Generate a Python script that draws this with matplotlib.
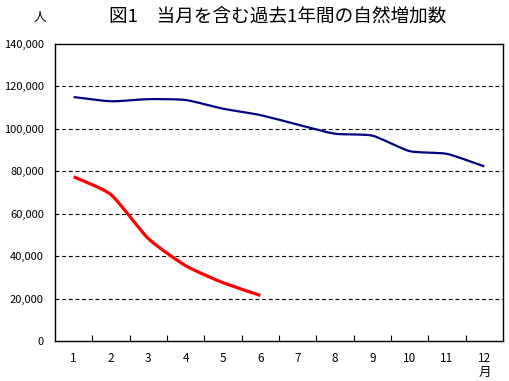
import numpy as np
from matplotlib import pyplot as plt
from matplotlib.path import Path
from matplotlib.patches import PathPatch
from matplotlib.ticker import FuncFormatter, FixedLocator

plt.rcParams['font.family'] = ['Noto Sans CJK JP', 'DejaVu Sans']

months = list(range(1, 13))
month_labels = [str(m) for m in months]
blue_vals = [115000, 113000, 114000, 113600, 109500, 106500, 102000, 97700, 96800, 89500, 88200, 82300]
red_vals = [77400, 69000, 48300, 35500, 27500, 21500]
title = '図1　当月を含む過去1年間の自然増加数'


def smooth_path(xs, ys, k=10):
    # lightly smoothed line (bezier through the points)
    pts = np.column_stack([xs, ys]).astype(float)
    verts = [pts[0]]
    codes = [Path.MOVETO]
    n = len(pts)
    for i in range(n - 1):
        p0 = pts[i - 1] if i > 0 else pts[i]
        p1 = pts[i]
        p2 = pts[i + 1]
        p3 = pts[i + 2] if i + 2 < n else pts[i + 1]
        c1 = p1 + (p2 - p0) / k
        c2 = p2 - (p3 - p1) / k
        verts += [c1, c2, p2]
        codes += [Path.CURVE4] * 3
    return Path(verts, codes)


fig = plt.figure(figsize=(5.09, 3.81), dpi=100)
ax = fig.add_axes([55 / 509, 40 / 381, 448 / 509, 297 / 381])

ax.set_xlim(0.5, 12.5)
ax.set_ylim(0, 140000)

for vals, col, lw in [(blue_vals, '#000080', 1.6), (red_vals, '#ff0000', 2.3)]:
    p = smooth_path(months[:len(vals)], vals)
    ax.add_patch(PathPatch(p, facecolor='none', edgecolor=col, lw=lw, capstyle='butt', zorder=3))

for g in range(20000, 140000, 20000):
    ax.axhline(g, color='black', lw=0.8, linestyle=(0, (3.5, 2.5)), zorder=1)

ax.set_yticks(np.arange(0, 140001, 20000))
ax.yaxis.set_major_formatter(FuncFormatter(lambda v, p: f'{int(v):,}'))
ax.tick_params(axis='y', length=0, pad=8, labelsize=8)

ax.set_xticks(months)
ax.set_xticklabels(month_labels)
ax.xaxis.set_minor_locator(FixedLocator(np.arange(1.5, 12.5, 1)))
ax.tick_params(axis='x', which='major', length=0, pad=8, labelsize=8.5)
ax.tick_params(axis='x', which='minor', direction='in', length=4, width=0.8)

for s in ax.spines.values():
    s.set_linewidth(1)

fig.text(278 / 509, 1 - 17 / 381, title, ha='center', va='center', fontsize=13.4)
fig.text(40 / 509, 1 - 17 / 381, '人', ha='center', va='center', fontsize=9)
fig.text(485 / 509, 1 - 372 / 381, '月', ha='center', va='center', fontsize=9)

fig.savefig('out.png', dpi=100)
